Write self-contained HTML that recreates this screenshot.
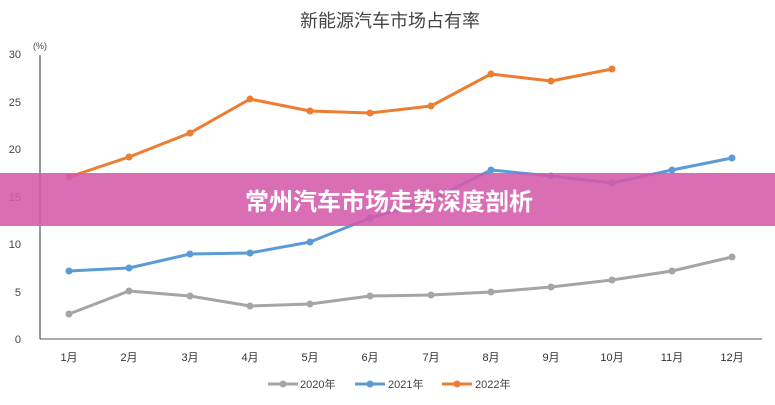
<!DOCTYPE html>
<html><head><meta charset="utf-8"><style>
body{margin:0;background:#fff;}
svg text{font-family:"Liberation Sans","Noto Sans CJK SC",sans-serif;}
</style></head><body>
<svg width="775" height="400" viewBox="0 0 775 400" xmlns="http://www.w3.org/2000/svg">
<rect width="775" height="400" fill="#fff"/>
<text x="390" y="27" font-size="18" text-anchor="middle" fill="#444" font-family="Liberation Serif,'Noto Serif CJK SC',serif">新能源汽车市场占有率</text>
<text x="40" y="49" font-size="9" text-anchor="middle" fill="#444">(%)</text>
<g font-size="11" fill="#444" text-anchor="end">
<text x="21" y="58">30</text><text x="21" y="106">25</text><text x="21" y="153">20</text><text x="21" y="201">15</text><text x="21" y="248">10</text><text x="21" y="296">5</text><text x="21" y="343">0</text>
</g>
<line x1="40" y1="55" x2="40" y2="339" stroke="#333" stroke-width="1"/>
<line x1="40" y1="339" x2="762" y2="339" stroke="#555" stroke-width="1"/>
<g font-size="11" fill="#333" text-anchor="middle">
<text x="69" y="361">1月</text><text x="129" y="361">2月</text><text x="190" y="361">3月</text><text x="250" y="361">4月</text><text x="310" y="361">5月</text><text x="370" y="361">6月</text><text x="431" y="361">7月</text><text x="491" y="361">8月</text><text x="551" y="361">9月</text><text x="612" y="361">10月</text><text x="672" y="361">11月</text><text x="732" y="361">12月</text>
</g>
<g fill="none" stroke-width="3" stroke-linejoin="round">
<polyline stroke="#a5a5a5" points="69,314 129,291 190,296 250,306 310,304 370,296 431,295 491,292 551,287 612,280 672,271 732,257"/>
<polyline stroke="#5b9bd5" points="69,271 129,268 190,254 250,253 310,242 370,218 431,200 491,170 551,176 612,183 672,170 732,158"/>
<polyline stroke="#ed7d31" points="69,177 129,157 190,133 250,99 310,111 370,113 431,106 491,74 551,81 612,69"/>
</g>
<g fill="#a5a5a5"><circle cx="69" cy="314" r="3.5"/><circle cx="129" cy="291" r="3.5"/><circle cx="190" cy="296" r="3.5"/><circle cx="250" cy="306" r="3.5"/><circle cx="310" cy="304" r="3.5"/><circle cx="370" cy="296" r="3.5"/><circle cx="431" cy="295" r="3.5"/><circle cx="491" cy="292" r="3.5"/><circle cx="551" cy="287" r="3.5"/><circle cx="612" cy="280" r="3.5"/><circle cx="672" cy="271" r="3.5"/><circle cx="732" cy="257" r="3.5"/></g>
<g fill="#5b9bd5"><circle cx="69" cy="271" r="3.5"/><circle cx="129" cy="268" r="3.5"/><circle cx="190" cy="254" r="3.5"/><circle cx="250" cy="253" r="3.5"/><circle cx="310" cy="242" r="3.5"/><circle cx="370" cy="218" r="3.5"/><circle cx="491" cy="170" r="3.5"/><circle cx="551" cy="176" r="3.5"/><circle cx="612" cy="183" r="3.5"/><circle cx="672" cy="170" r="3.5"/><circle cx="732" cy="158" r="3.5"/></g>
<g fill="#ed7d31"><circle cx="69" cy="177" r="3.5"/><circle cx="129" cy="157" r="3.5"/><circle cx="190" cy="133" r="3.5"/><circle cx="250" cy="99" r="3.5"/><circle cx="310" cy="111" r="3.5"/><circle cx="370" cy="113" r="3.5"/><circle cx="431" cy="106" r="3.5"/><circle cx="491" cy="74" r="3.5"/><circle cx="551" cy="81" r="3.5"/><circle cx="612" cy="69" r="3.5"/></g>
<rect x="0" y="173" width="775" height="53" fill="#d45aab" fill-opacity="0.88"/>
<text x="389" y="210" font-size="24" font-weight="bold" fill="#fff" text-anchor="middle">常州汽车市场走势深度剖析</text>
<g font-size="11" fill="#444">
<line x1="268" y1="384" x2="298" y2="384" stroke="#a5a5a5" stroke-width="3"/><circle cx="283" cy="384" r="3.5" fill="#a5a5a5"/><text x="300" y="388">2020年</text>
<line x1="355" y1="384" x2="385" y2="384" stroke="#5b9bd5" stroke-width="3"/><circle cx="370" cy="384" r="3.5" fill="#5b9bd5"/><text x="388" y="388">2021年</text>
<line x1="442" y1="384" x2="472" y2="384" stroke="#ed7d31" stroke-width="3"/><circle cx="457" cy="384" r="3.5" fill="#ed7d31"/><text x="475" y="388">2022年</text>
</g>
</svg>
</body></html>
